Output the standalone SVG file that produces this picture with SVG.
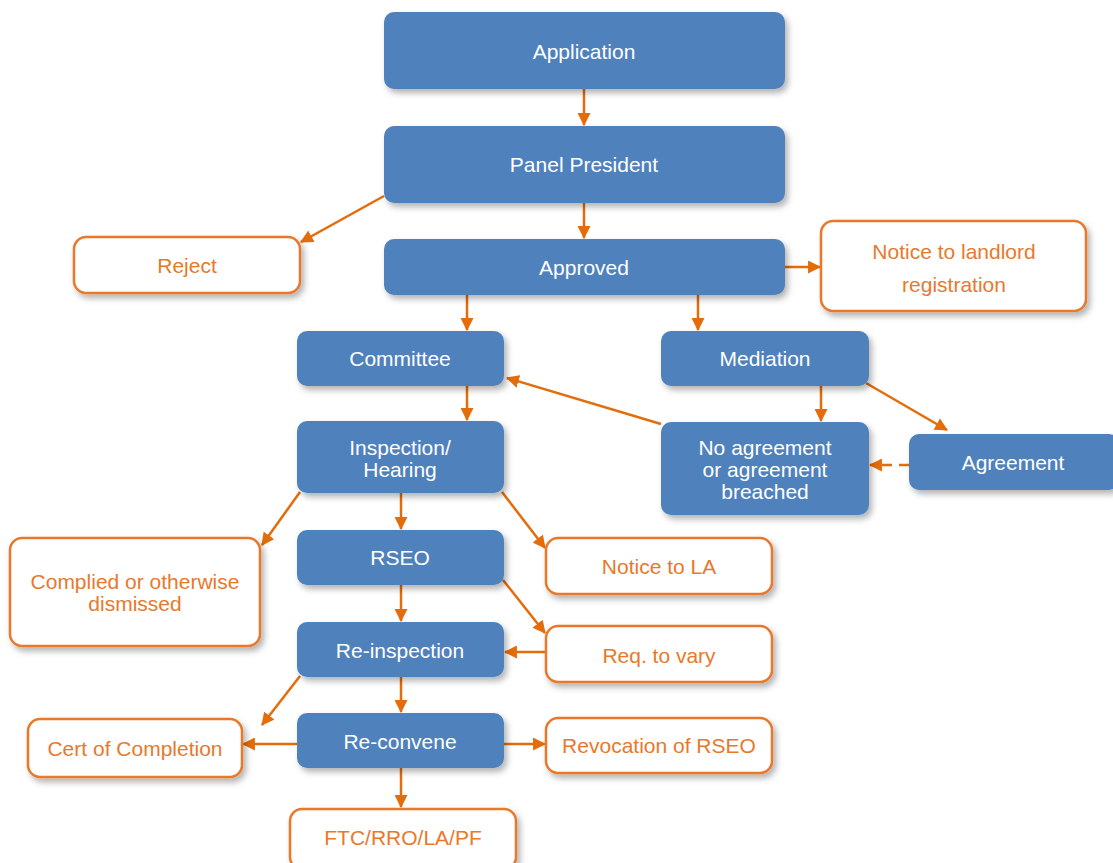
<svg xmlns="http://www.w3.org/2000/svg" width="1113" height="863" viewBox="0 0 1113 863">
<defs>
<filter id="sh" x="-10%" y="-20%" width="125%" height="150%">
<feDropShadow dx="3" dy="4" stdDeviation="3" flood-color="#000" flood-opacity="0.3"/>
</filter>
<marker id="ah" viewBox="0 0 12 12" refX="11" refY="6" markerWidth="13" markerHeight="13" markerUnits="userSpaceOnUse" orient="auto">
<path d="M0,0 L12,6 L0,12 z" fill="#E46C0A"/>
</marker>
<style>
.b{fill:#4F81BD;filter:url(#sh)}
.w{fill:#fff;stroke:#E8792B;stroke-width:2.5;filter:url(#sh)}
.bt{fill:#fff;font-family:"Liberation Sans",Arial,sans-serif;font-size:21px;text-anchor:middle}
.wt{fill:#E8792B;font-family:"Liberation Sans",Arial,sans-serif;font-size:21px;text-anchor:middle}
.c{stroke:#E46C0A;stroke-width:2.5;fill:none;marker-end:url(#ah)}
</style>
</defs>
<rect width="1113" height="863" fill="#fff"/>
<g id="connectors">
<line class="c" x1="584" y1="89" x2="584" y2="125"/>
<line class="c" x1="584" y1="203" x2="584" y2="238"/>
<line class="c" x1="384" y1="196" x2="301" y2="242"/>
<line class="c" x1="785" y1="267" x2="820" y2="267"/>
<line class="c" x1="467" y1="295" x2="467" y2="330"/>
<line class="c" x1="698" y1="295" x2="698" y2="330"/>
<line class="c" x1="467" y1="386" x2="467" y2="420"/>
<line class="c" x1="821" y1="386" x2="821" y2="421"/>
<line class="c" x1="866" y1="383" x2="947" y2="430"/>
<line class="c" x1="661" y1="424" x2="507" y2="378"/>
<line class="c" x1="909" y1="465" x2="870" y2="465" stroke-dasharray="10,7"/>
<line class="c" x1="401" y1="493" x2="401" y2="529"/>
<line class="c" x1="300" y1="492" x2="262" y2="545"/>
<line class="c" x1="502" y1="492" x2="545" y2="548"/>
<line class="c" x1="401" y1="585" x2="401" y2="621"/>
<line class="c" x1="503" y1="580" x2="545" y2="633"/>
<line class="c" x1="546" y1="652" x2="505" y2="652"/>
<line class="c" x1="401" y1="677" x2="401" y2="712"/>
<line class="c" x1="300" y1="676" x2="262" y2="725"/>
<line class="c" x1="297" y1="744" x2="243" y2="744"/>
<line class="c" x1="504" y1="744" x2="545" y2="744"/>
<line class="c" x1="401" y1="768" x2="401" y2="807"/>
</g>
<g id="application"><rect class="b" x="384" y="12" width="401" height="77" rx="10"/><text class="bt" x="584" y="59">Application</text></g>
<g id="panel-president"><rect class="b" x="384" y="126" width="401" height="77" rx="10"/><text class="bt" x="584" y="172">Panel President</text></g>
<g id="approved"><rect class="b" x="384" y="239" width="401" height="56" rx="10"/><text class="bt" x="584" y="275">Approved</text></g>
<g id="reject"><rect class="w" x="74" y="237" width="226" height="56" rx="12"/><text class="wt" x="187" y="273">Reject</text></g>
<g id="notice-landlord"><rect class="w" x="821" y="221" width="265" height="90" rx="12"/><text class="wt" x="954" y="259">Notice to landlord</text><text class="wt" x="954" y="292">registration</text></g>
<g id="committee"><rect class="b" x="297" y="331" width="207" height="55" rx="10"/><text class="bt" x="400" y="366">Committee</text></g>
<g id="mediation"><rect class="b" x="661" y="331" width="208" height="55" rx="10"/><text class="bt" x="765" y="366">Mediation</text></g>
<g id="inspection"><rect class="b" x="297" y="421" width="207" height="72" rx="10"/><text class="bt" x="400" y="455">Inspection/</text><text class="bt" x="400" y="477">Hearing</text></g>
<g id="no-agreement"><rect class="b" x="661" y="422" width="208" height="93" rx="10"/><text class="bt" x="765" y="455">No agreement</text><text class="bt" x="765" y="477">or agreement</text><text class="bt" x="765" y="499">breached</text></g>
<g id="agreement"><rect class="b" x="909" y="434" width="210" height="56" rx="10"/><text class="bt" x="1013" y="470">Agreement</text></g>
<g id="rseo"><rect class="b" x="297" y="530" width="207" height="55" rx="10"/><text class="bt" x="400" y="565">RSEO</text></g>
<g id="complied"><rect class="w" x="10" y="538" width="250" height="108" rx="12"/><text class="wt" x="135" y="589">Complied or otherwise</text><text class="wt" x="135" y="611">dismissed</text></g>
<g id="notice-la"><rect class="w" x="546" y="538" width="226" height="56" rx="12"/><text class="wt" x="659" y="574">Notice to LA</text></g>
<g id="re-inspection"><rect class="b" x="297" y="622" width="207" height="55" rx="10"/><text class="bt" x="400" y="658">Re-inspection</text></g>
<g id="req-vary"><rect class="w" x="546" y="626" width="226" height="56" rx="12"/><text class="wt" x="659" y="663">Req. to vary</text></g>
<g id="re-convene"><rect class="b" x="297" y="713" width="207" height="55" rx="10"/><text class="bt" x="400" y="749">Re-convene</text></g>
<g id="cert"><rect class="w" x="28" y="719" width="214" height="58" rx="12"/><text class="wt" x="135" y="756">Cert of Completion</text></g>
<g id="revocation"><rect class="w" x="546" y="718" width="226" height="55" rx="12"/><text class="wt" x="659" y="753">Revocation of RSEO</text></g>
<g id="ftc"><rect class="w" x="290" y="809" width="226" height="60" rx="12"/><text class="wt" x="403" y="845">FTC/RRO/LA/PF</text></g>
</svg>
